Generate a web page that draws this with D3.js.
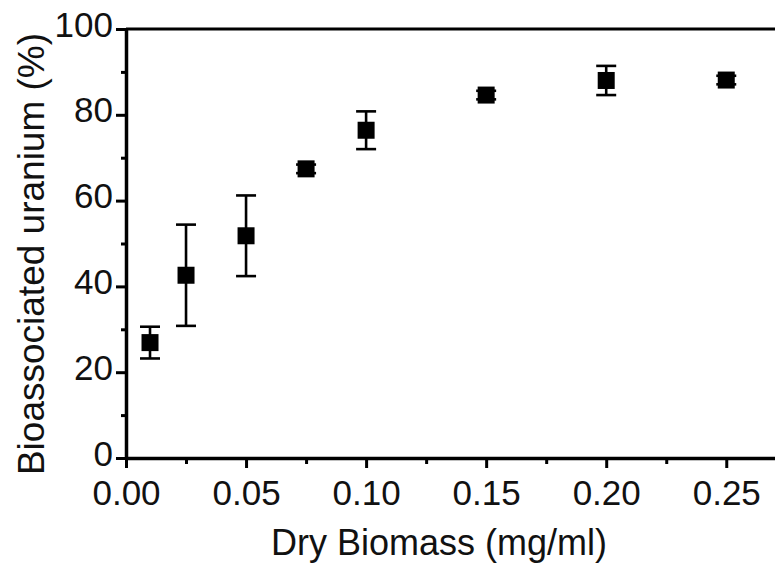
<!DOCTYPE html>
<html>
<head>
<meta charset="utf-8">
<script src="https://cdn.jsdelivr.net/npm/d3@7"></script>
<style>
  body { margin: 0; background: #fff; }
  text { font-family: "Liberation Sans", Arial, sans-serif; }
</style>
</head>
<body>
<svg id="chart" width="775" height="565"></svg>
<script>
// data
const biomass = [0.01, 0.025, 0.05, 0.075, 0.10, 0.15, 0.20, 0.25];
const uranium = [26.9, 42.6, 51.8, 67.4, 76.4, 84.6, 88.0, 88.1];
const errors  = [3.7, 11.8, 9.4, 1.0, 4.4, 1.0, 3.4, 1.0];
const xTicks = [0, 0.05, 0.10, 0.15, 0.20, 0.25];
const yTicks = [0, 20, 40, 60, 80, 100];

const width = 775, height = 565;
const margin = {top: 29, right: 0, bottom: 107, left: 126};

const svg = d3.select("#chart");

const x = d3.scaleLinear()
  .domain([0, 0.2703])
  .range([margin.left, width - margin.right]);

const y = d3.scaleLinear()
  .domain([0, 100])
  .range([height - margin.bottom, margin.top]);

// minor ticks
const xMinor = d3.range(0.025, 0.27, 0.05);
const yMinor = d3.range(10, 100, 20);

const xAxis = g => g
  .attr("transform", `translate(0,${y(0)})`)
  .call(d3.axisBottom(x).tickValues(xTicks).tickFormat(d3.format(".2f"))
    .tickSize(10).tickPadding(12).tickSizeOuter(0))
  .call(g => g.selectAll("text").attr("font-size", 35).attr("fill", "#111"));

const yAxis = g => g
  .attr("transform", `translate(${x(0)},0)`)
  .call(d3.axisLeft(y).tickValues(yTicks)
    .tickSize(10).tickPadding(3).tickSizeOuter(0))
  .call(g => g.selectAll("text").attr("font-size", 35).attr("fill", "#111")
    .attr("dy", "0.2em"));

svg.append("g").call(xAxis);
svg.append("g").call(yAxis);

svg.append("g")
  .attr("transform", `translate(0,${y(0)})`)
  .call(d3.axisBottom(x).tickValues(xMinor).tickSize(6).tickFormat("").tickSizeOuter(0))
  .call(g => g.select(".domain").remove());
svg.append("g")
  .attr("transform", `translate(${x(0)},0)`)
  .call(d3.axisLeft(y).tickValues(yMinor).tickSize(5).tickFormat("").tickSizeOuter(0))
  .call(g => g.select(".domain").remove());

// top frame line
svg.append("line")
  .attr("x1", x(0)).attr("x2", width)
  .attr("y1", y(100)).attr("y2", y(100))
  .attr("stroke", "#000").attr("stroke-width", 3);

svg.selectAll(".domain").attr("stroke-width", 3.5);
svg.selectAll(".tick line").attr("stroke-width", 3);

// error bars
const capW = 10;
const bars = svg.append("g")
  .attr("stroke", "#000")
  .attr("stroke-width", 2.6);
biomass.forEach((b, i) => {
  const cx = x(b);
  const lo = y(uranium[i] - errors[i]);
  const hi = y(uranium[i] + errors[i]);
  bars.append("line").attr("x1", cx).attr("x2", cx).attr("y1", lo).attr("y2", hi);
  bars.append("line").attr("x1", cx - capW).attr("x2", cx + capW).attr("y1", lo).attr("y2", lo);
  bars.append("line").attr("x1", cx - capW).attr("x2", cx + capW).attr("y1", hi).attr("y2", hi);
});

// square markers
const sz = 17;
svg.append("g")
  .selectAll("rect")
  .data(biomass)
  .join("rect")
  .attr("x", d => x(d) - sz / 2)
  .attr("y", (d, i) => y(uranium[i]) - sz / 2)
  .attr("width", sz)
  .attr("height", sz)
  .attr("fill", "#000");

// axis titles
svg.append("text")
  .attr("x", 439)
  .attr("y", 555)
  .attr("text-anchor", "middle")
  .attr("font-size", 36)
  .attr("fill", "#111")
  .text("Dry Biomass (mg/ml)");

svg.append("text")
  .attr("transform", "translate(44,254) rotate(-90)")
  .attr("text-anchor", "middle")
  .attr("font-size", 37)
  .attr("fill", "#111")
  .text("Bioassociated uranium (%)");
</script>
</body>
</html>
